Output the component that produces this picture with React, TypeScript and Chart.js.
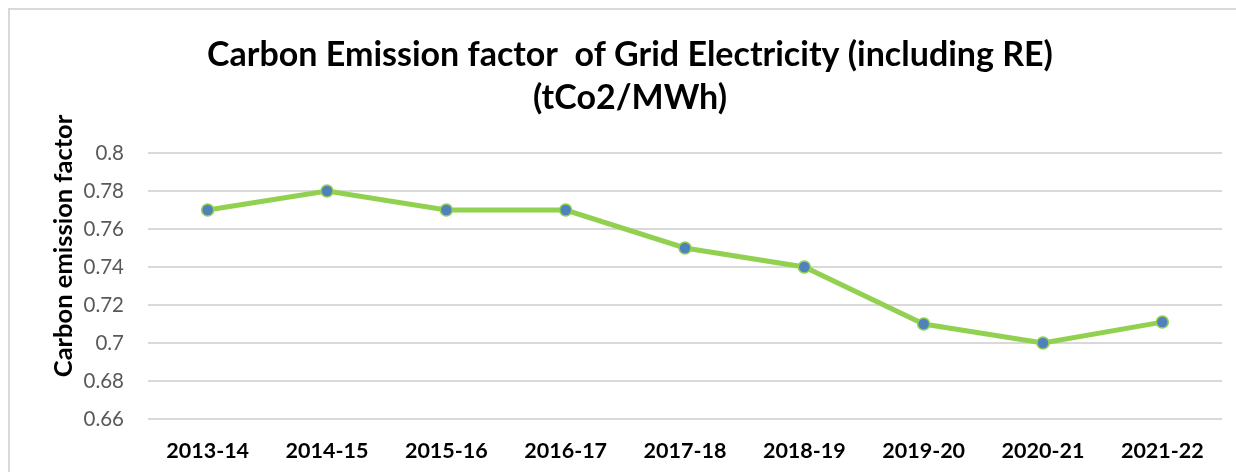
import React, { useEffect, useRef } from "react";
import { Chart, registerables } from "chart.js";

Chart.register(...registerables);

const categories = ["2013-14", "2014-15", "2015-16", "2016-17", "2017-18", "2018-19", "2019-20", "2020-21", "2021-22"];
const emissionFactor = [0.77, 0.78, 0.77, 0.77, 0.75, 0.74, 0.71, 0.70, 0.711];
const yTickValues = [0.66, 0.68, 0.7, 0.72, 0.74, 0.76, 0.78, 0.8];
const titleLines = ["Carbon Emission factor  of Grid Electricity (including RE)", "(tCo2/MWh)"];
const yAxisTitle = "Carbon emission factor";

const FONT = "Lato, 'Open Sans', sans-serif";

const yTitlePlugin = {
  id: "yTitlePlugin",
  afterDraw(chart: any) {
    const ctx = chart.ctx;
    ctx.save();
    ctx.translate(64, 246);
    ctx.rotate(-Math.PI / 2);
    ctx.font = `bold 25.5px ${FONT}`;
    ctx.fillStyle = "#000000";
    ctx.textAlign = "center";
    ctx.textBaseline = "middle";
    ctx.fillText(yAxisTitle, 0, 0);
    ctx.restore();
  },
};

export default function App() {
  const ref = useRef<HTMLCanvasElement | null>(null);

  useEffect(() => {
    if (!ref.current) return;
    const chart = new Chart(ref.current, {
      type: "line",
      data: {
        labels: categories,
        datasets: [
          {
            data: emissionFactor,
            borderColor: "#92D050",
            borderWidth: 5,
            pointRadius: 6,
            pointBackgroundColor: "#4F81BD",
            pointBorderColor: "#92D050",
            pointBorderWidth: 1.5,
            tension: 0,
          },
        ],
      },
      options: {
        responsive: false,
        animation: false,
        layout: { padding: { left: 38, right: 14, top: 0, bottom: 0 } },
        plugins: {
          legend: { display: false },
          tooltip: { enabled: false },
          title: {
            display: true,
            text: titleLines,
            color: "#000000",
            font: { family: FONT, size: 34, weight: "bold", lineHeight: 43 / 34 },
            padding: { top: 33.5, bottom: 33.5 },
          },
        },
        scales: {
          x: {
            offset: true,
            grid: { display: false, drawTicks: false },
            border: { display: false },
            ticks: {
              color: "#000000",
              font: { family: FONT, size: 21.5, weight: "bold" },
              padding: 19,
              maxRotation: 0,
            },
            afterFit(scale: any) {
              scale.height = 53;
            },
          },
          y: {
            min: 0.66,
            max: 0.8,
            grid: { color: "#D9D9D9", lineWidth: 2, drawTicks: false },
            border: { display: false },
            ticks: {
              color: "#595959",
              font: { family: FONT, size: 20.5 },
              padding: 24,
              crossAlign: "near",
              callback: (v: any) => String(Math.round(Number(v) * 100) / 100),
            },
            afterBuildTicks(scale: any) {
              scale.ticks = yTickValues.map((v) => ({ value: v }));
            },
            afterFit(scale: any) {
              scale.width = 110;
            },
          },
        },
      },
      plugins: [yTitlePlugin],
    });
    return () => chart.destroy();
  }, []);

  return (
    <div style={{ position: "fixed", left: 0, top: 0, width: 1236, height: 472, overflow: "hidden", background: "#ffffff" }}>
      <div
        style={{
          position: "absolute",
          left: 8,
          top: 8,
          width: 1260,
          height: 520,
          border: "2px solid #D9D9D9",
          boxSizing: "border-box",
        }}
      />
      <canvas ref={ref} width={1236} height={472} style={{ position: "absolute", left: 0, top: 0, width: 1236, height: 472 }} />
    </div>
  );
}
